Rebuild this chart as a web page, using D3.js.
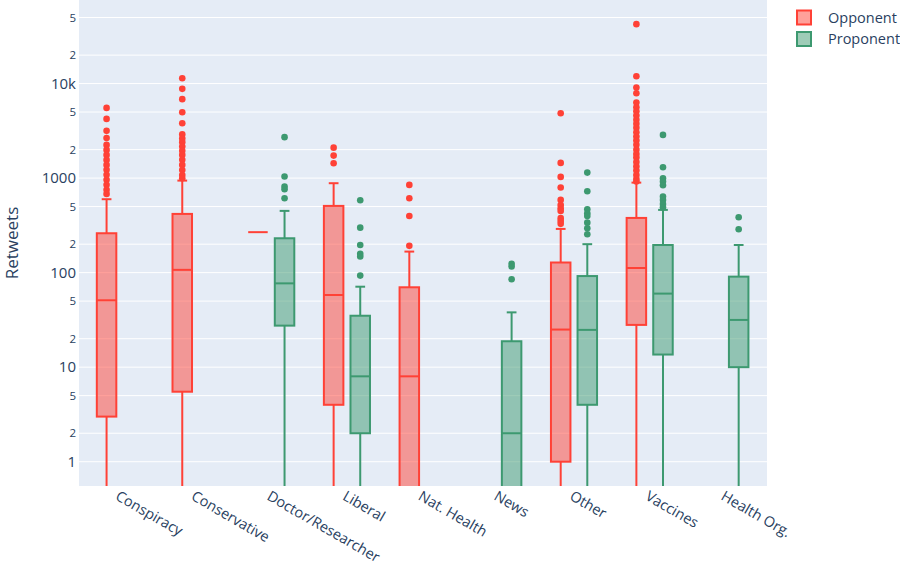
<!DOCTYPE html>
<html><head><meta charset="utf-8">
<script src="https://cdn.jsdelivr.net/npm/d3@7"></script>
<style>body{margin:0;background:#fff;font-family:"Open Sans",Arial,sans-serif}</style>
</head><body><svg id="c" width="900" height="565"></svg>
<script>
const categories = ["Conspiracy","Conservative","Doctor/Researcher","Liberal","Nat. Health","News","Other","Vaccines","Health Org."];
const seriesNames = ["Opponent","Proponent"];
// Opponent stats (0 = minimum of zero retweets, null = no data)
const oppLow = [0, 0, 268, 0, 0, null, 0, 0, null];
const oppQ1  = [3, 5.5, 268, 4, 0, null, 1, 28, null];
const oppMed = [51, 107, 268, 58, 8, null, 25, 112, null];
const oppQ3  = [261, 418, 268, 508, 70, null, 128, 379, null];
const oppHigh= [598, 941, 268, 883, 167, null, 290, 896, null];
const oppOut = [
  [5530,4230,3160,2660,2245,1988,1760,1558,1380,1222,1082,958,848,751,681],
  [11400,8790,6840,4980,3810,2900,2620,2400,2155,1950,1760,1560,1380,1220,1080,998],
  [],
  [2100,1730,1438],
  [847,612,398,192],
  [],
  [4860,1448,1030,794,588,520,480,450,377,352,328],
  [42500,11970,9070,7900,6300,5600,5100,4600,4150,3750,3400,3050,2750,2500,2250,2000,1800,1650,1480,1330,1200,1080,980,920],
  []
];
// Proponent stats
const propLow = [null, null, 0, 0, null, 0, 0, 0, 0];
const propQ1  = [null, null, 27.5, 2, null, 0, 4, 13.6, 10];
const propMed = [null, null, 77, 8, null, 2, 24.8, 60, 31.6];
const propQ3  = [null, null, 231, 35, null, 18.8, 92, 196, 90.7];
const propHigh= [null, null, 450, 71, null, 38, 200, 461, 196];
const propOut = [
  [], [],
  [2710,1038,813,763,612],
  [584,299,196,158,148,93],
  [],
  [124,116,85],
  [1143,727,468,425,398,338,295,255],
  [2865,1303,998,918,841,637,588,533,492],
  [386,288]
];
const yMajor = [1,10,100,1000,10000];
const yMajorLabels = ["1","10","100","1000","10k"];
const yMinor = [2,5,20,50,200,500,2000,5000,20000,50000];
const yMinorLabels = ["2","5","2","5","2","5","2","5","2","5"];

const colors = {Opponent:{line:"#FF4136", fill:"rgba(255,65,54,0.5)"}, Proponent:{line:"#3D9970", fill:"rgba(61,153,112,0.5)"}};

const svg = d3.select("#c");
const L = 79, R = 767, T = 0, B = 486;
const y = d3.scaleLog().domain([Math.pow(10,-0.257), Math.pow(10,4.884)]).range([B, T]);
const x = d3.scaleLinear().domain([-0.54, 8.55]).range([L, R]);
const off = 13.3, bw = 19.5;
const yv = v => v <= 0 ? B + 20 : y(v);

svg.append("rect").attr("x",L).attr("y",T).attr("width",R-L).attr("height",B-T).attr("fill","#E5ECF6");
svg.append("clipPath").attr("id","clip").append("rect").attr("x",L).attr("y",T).attr("width",R-L).attr("height",B-T);

const grid = svg.append("g");
yMajor.concat(yMinor).forEach(v=>{
  grid.append("line").attr("x1",L).attr("x2",R).attr("y1",y(v)).attr("y2",y(v)).attr("stroke","#fff").attr("stroke-width",1);
});
const ax = svg.append("g").attr("fill","#2a3f5f");
yMajor.forEach((v,i)=>ax.append("text").attr("x",76).attr("y",y(v)).attr("dy","0.35em").attr("text-anchor","end").attr("font-size",15).text(yMajorLabels[i]));
yMinor.forEach((v,i)=>ax.append("text").attr("x",76).attr("y",y(v)).attr("dy","0.35em").attr("text-anchor","end").attr("font-size",11.5).text(yMinorLabels[i]));
ax.append("text").attr("transform",`translate(18,${(T+B)/2}) rotate(-90)`).attr("text-anchor","middle").attr("font-size",17).text("Retweets");

categories.forEach((c,i)=>{
  ax.append("text").attr("transform",`translate(${x(i)+0.5},${B+3}) rotate(30)`).attr("text-anchor","start").attr("dy","0.8em").attr("font-size",14.5).text(c);
});

const plot = svg.append("g").attr("clip-path","url(#clip)");
function drawSeries(name, lo, q1, med, q3, hi, out, dx){
  const col = colors[name];
  categories.forEach((c,i)=>{
    if (med[i] == null) return;
    const cx = x(i) + dx;
    const g = plot.append("g");
    g.append("line").attr("x1",cx).attr("x2",cx).attr("y1",yv(q3[i])).attr("y2",yv(hi[i])).attr("stroke",col.line).attr("stroke-width",2);
    g.append("line").attr("x1",cx).attr("x2",cx).attr("y1",yv(q1[i])).attr("y2",yv(lo[i])).attr("stroke",col.line).attr("stroke-width",2);
    if (hi[i] !== q3[i]) g.append("line").attr("x1",cx-bw/4).attr("x2",cx+bw/4).attr("y1",yv(hi[i])).attr("y2",yv(hi[i])).attr("stroke",col.line).attr("stroke-width",2);
    g.append("rect").attr("x",cx-bw/2).attr("width",bw).attr("y",yv(q3[i])).attr("height",Math.max(0,yv(q1[i])-yv(q3[i])))
      .attr("fill",col.fill).attr("stroke",col.line).attr("stroke-width",2);
    g.append("line").attr("x1",cx-bw/2).attr("x2",cx+bw/2).attr("y1",yv(med[i])).attr("y2",yv(med[i])).attr("stroke",col.line).attr("stroke-width",2);
    out[i].forEach(v=>g.append("circle").attr("cx",cx).attr("cy",y(v)).attr("r",3.3).attr("fill",col.line));
  });
}
drawSeries("Opponent", oppLow, oppQ1, oppMed, oppQ3, oppHigh, oppOut, -off);
drawSeries("Proponent", propLow, propQ1, propMed, propQ3, propHigh, propOut, off);

const lg = svg.append("g");
seriesNames.forEach((n,i)=>{
  const yy = 17.5 + i*21.5;
  lg.append("rect").attr("x",797).attr("y",yy-7).attr("width",14).attr("height",14).attr("fill",colors[n].fill).attr("stroke",colors[n].line).attr("stroke-width",2);
  lg.append("text").attr("x",828).attr("y",yy).attr("dy","0.35em").attr("font-size",14.5).attr("fill","#2a3f5f").text(n);
});
</script></body></html>
